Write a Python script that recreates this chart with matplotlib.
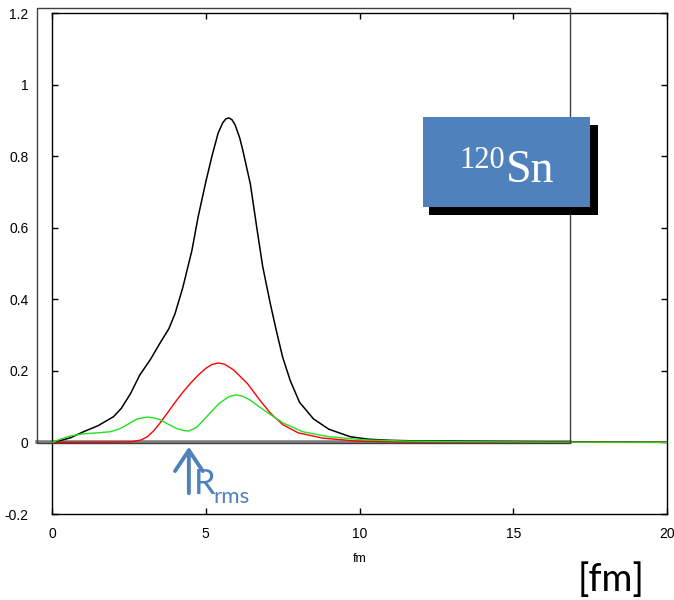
import matplotlib.pyplot as plt
from matplotlib.patches import Rectangle, FancyArrowPatch

plt.rcParams['font.family'] = ['Liberation Sans', 'DejaVu Sans']

# total density (black)
X_TOT = [0, 0.3, 0.6, 1.0, 1.5, 2.0, 2.25, 2.55, 2.85, 3.2, 3.5, 3.8, 4.0, 4.25,
         4.55, 4.75, 5.0, 5.2, 5.4, 5.55, 5.65, 5.75, 5.85, 5.95, 6.1, 6.2, 6.45,
         6.65, 6.85, 7.1, 7.3, 7.5, 7.75, 8.05, 8.5, 9.0, 9.7, 10.3, 11, 12, 14,
         16, 18, 20]
Y_TOT = [0, 0.006, 0.013, 0.029, 0.047, 0.072, 0.095, 0.136, 0.188, 0.232, 0.276,
         0.318, 0.360, 0.432, 0.537, 0.630, 0.728, 0.800, 0.864, 0.893, 0.904,
         0.907, 0.902, 0.888, 0.852, 0.818, 0.722, 0.605, 0.492, 0.387, 0.310,
         0.238, 0.172, 0.112, 0.066, 0.037, 0.016, 0.009, 0.006, 0.004, 0.003,
         0.002, 0.0015, 0.001]

# red component
X_RED = [0, 1, 2, 2.6, 2.9, 3.1, 3.3, 3.5, 3.75, 4.0, 4.25, 4.5, 4.75, 5.0, 5.2,
         5.4, 5.6, 5.9, 6.1, 6.35, 6.55, 6.75, 7.1, 7.5, 8.0, 8.8, 9.9, 11, 13, 20]
Y_RED = [0, 0.001, 0.001, 0.002, 0.007, 0.016, 0.032, 0.053, 0.082, 0.112, 0.140,
         0.165, 0.188, 0.207, 0.218, 0.222, 0.219, 0.203, 0.186, 0.165, 0.142,
         0.119, 0.082, 0.050, 0.027, 0.012, 0.004, 0.002, 0.001, 0.0]

# green component
X_GRN = [0, 0.3, 0.6, 1.0, 1.5, 1.9, 2.2, 2.45, 2.75, 3.1, 3.35, 3.55, 3.8, 4.05,
         4.3, 4.45, 4.7, 4.9, 5.2, 5.45, 5.75, 6.0, 6.2, 6.45, 6.7, 7.0, 7.5, 8.15,
         9.0, 10.2, 11.5, 13, 16, 20]
Y_GRN = [0, 0.010, 0.018, 0.024, 0.027, 0.030, 0.038, 0.050, 0.065, 0.071, 0.068,
         0.062, 0.050, 0.039, 0.033, 0.032, 0.042, 0.060, 0.088, 0.110, 0.128,
         0.133, 0.129, 0.118, 0.102, 0.084, 0.055, 0.030, 0.016, 0.007, 0.004,
         0.002, 0.001, 0.0005]

R_RMS = 4.45
XTICKS = [0, 5, 10, 15, 20]
YTICKS = [-0.2, 0, 0.2, 0.4, 0.6, 0.8, 1.0, 1.2]
YLABELS = ['-0.2', '0', '0.2', '0.4', '0.6', '0.8', '1', '1.2']

BLUE = '#4f81bd'

fig = plt.figure(figsize=(6.74, 6.0), dpi=100)
ax = fig.add_axes([0.0772, 0.1433, 0.9125, 0.835])

ax.axhline(0, xmin=-0.024, xmax=0.842, color='#808080', lw=2.6, clip_on=False, zorder=1)
ax.plot(X_TOT, Y_TOT, color='black', lw=1.1, zorder=3)
ax.plot(X_RED, Y_RED, color='#ff0000', lw=1.0, zorder=3)
ax.plot(X_GRN, Y_GRN, color='#22e022', lw=1.0, zorder=3)

ax.set_xlim(0, 20)
ax.set_ylim(-0.2, 1.2)
ax.set_xticks(XTICKS)
ax.set_yticks(YTICKS)
ax.set_yticklabels(YLABELS)
ax.tick_params(direction='in', length=4, width=1, top=True, right=True,
               labelsize=10)
ax.tick_params(axis='y', pad=17)
ax.tick_params(axis='x', pad=9)
ax.set_xlabel('fm', fontsize=9, labelpad=9)
for s in ax.spines.values():
    s.set_linewidth(1.0)

# outer frame of the pasted plot
fig.add_artist(Rectangle((0.0549, 0.2617), 0.7908, 0.725, transform=fig.transFigure,
                         fill=False, edgecolor='#404040', lw=1.0))

# R_rms arrow
arr = FancyArrowPatch((R_RMS, -0.142), (R_RMS, -0.012),
                      arrowstyle='->,head_length=0.75,head_width=0.5',
                      color=BLUE, lw=2.8, mutation_scale=20,
                      shrinkA=0, shrinkB=0, zorder=5)
ax.add_patch(arr)
fig.text(194 / 674, 1 - 494 / 600, 'R', color=BLUE, fontsize=25,
         family=['Lato', 'DejaVu Sans'], va='baseline', ha='left')
fig.text(213 / 674, 1 - 503 / 600, 'rms', color=BLUE, fontsize=16,
         family=['Lato', 'DejaVu Sans'], va='baseline', ha='left')

# nucleus label box with shadow
fig.add_artist(Rectangle((429 / 674, 1 - 215 / 600), 169 / 674, 90 / 600,
                         transform=fig.transFigure, facecolor='black',
                         edgecolor='none', zorder=4))
fig.add_artist(Rectangle((423 / 674, 1 - 207 / 600), 167 / 674, 90 / 600,
                         transform=fig.transFigure, facecolor=BLUE,
                         edgecolor='none', zorder=5))
fig.text(459 / 674, 1 - 168 / 600, '120', color='white', fontsize=22,
         family=['Liberation Serif', 'DejaVu Serif'], va='baseline', ha='left', zorder=6)
fig.text(506 / 674, 1 - 182 / 600, 'Sn', color='white', fontsize=33,
         family=['Liberation Serif', 'DejaVu Serif'], va='baseline', ha='left', zorder=6)

fig.text(611 / 674, 1 - 580 / 600, '[fm]', color='black', fontsize=27,
         family=['Lato', 'DejaVu Sans'], va='center', ha='center')

fig.savefig('out.png', dpi=100)
